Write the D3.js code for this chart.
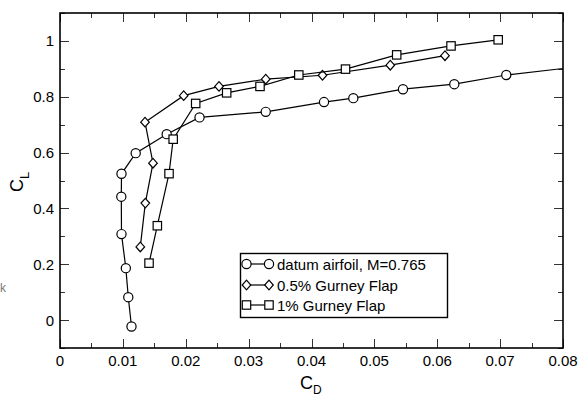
<!DOCTYPE html>
<html><head><meta charset="utf-8">
<script src="https://cdn.jsdelivr.net/npm/d3@7"></script>
<style>body{margin:0;background:#fff}svg{display:block}text{font-family:"Liberation Sans",Arial,sans-serif}</style>
</head><body><svg id="c" width="581" height="396"></svg>
<script>
// Datum airfoil, M=0.765 (CD, CL)
const datumCD = [0.01137,0.01086,0.01047,0.00978,0.00975,0.00978,0.01204,0.01697,0.02219,0.03272,0.04199,0.04665,0.05455,0.06271,0.07098,0.0900];
const datumCL = [-0.023,0.082,0.186,0.308,0.442,0.524,0.598,0.666,0.726,0.746,0.781,0.795,0.827,0.845,0.878,0.927];
// 0.5% Gurney flap
const g05CD = [0.01277,0.01357,0.01479,0.01352,0.01967,0.02529,0.03272,0.04175,0.05253,0.06123];
const g05CL = [0.262,0.419,0.562,0.709,0.804,0.837,0.863,0.877,0.913,0.947];
// 1% Gurney flap
const g1CD = [0.01416,0.01548,0.01734,0.01800,0.02158,0.02651,0.03181,0.03798,0.04541,0.05355,0.06219,0.06969];
const g1CL = [0.204,0.338,0.5245,0.648,0.776,0.814,0.837,0.878,0.899,0.950,0.982,1.004];
const xTicks = [0,0.01,0.02,0.03,0.04,0.05,0.06,0.07,0.08];
const yTicks = [0,0.2,0.4,0.6,0.8,1];
const seriesNames = ["datum airfoil, M=0.765","0.5% Gurney Flap","1% Gurney Flap"];

const svg = d3.select("#c");
const L=60,R=563,T=13,B=348;
const x = d3.scaleLinear().domain([0,0.08]).range([L,R]);
const y = d3.scaleLinear().domain([-0.1,1.1]).range([B,T]);

svg.append("defs").append("clipPath").attr("id","clip")
  .append("rect").attr("x",L).attr("y",T).attr("width",R-L).attr("height",B-T);

// ticks
const xMinor = d3.range(0,0.0801,0.005);
const yMinor = d3.range(-0.1,1.101,0.1);
const tk = svg.append("g").attr("stroke","#333").attr("stroke-width",1);
xMinor.forEach(v=>{
  const major = Math.abs(Math.round(v*100)-v*100)<1e-6;
  const len = major?9:5;
  const px = Math.round(x(v))+0.5;
  tk.append("line").attr("x1",px).attr("x2",px).attr("y1",B).attr("y2",B-len);
  tk.append("line").attr("x1",px).attr("x2",px).attr("y1",T).attr("y2",T+len);
});
yMinor.forEach(v=>{
  const r = Math.round(v*10);
  const major = r>=0 && r%2===0 && r<=10;
  const len = major?9:5;
  const py = Math.round(y(v))+0.5;
  tk.append("line").attr("x1",L).attr("x2",L+len).attr("y1",py).attr("y2",py);
  tk.append("line").attr("x1",R).attr("x2",R-len).attr("y1",py).attr("y2",py);
});

// tick labels
const fmt = v => v===0?"0":(v===1?"1":String(+v.toFixed(2)));
svg.append("g").selectAll("text").data(xTicks).join("text")
  .attr("x",d=>x(d)).attr("y",366).attr("text-anchor","middle")
  .attr("font-size",15).attr("fill","#000").text(fmt);
svg.append("g").selectAll("text").data(yTicks).join("text")
  .attr("x",54).attr("y",d=>y(d)+5.5).attr("text-anchor","end")
  .attr("font-size",15).attr("fill","#000").text(fmt);

// axis titles
const xt = svg.append("text").attr("x",300).attr("y",389).attr("font-size",18);
xt.append("tspan").text("C");
xt.append("tspan").attr("font-size",12).attr("dy",5).text("D");
const yt = svg.append("text").attr("transform","translate(23,192) rotate(-90)").attr("font-size",18);
yt.append("tspan").text("C");
yt.append("tspan").attr("font-size",13).attr("dy",6).text("L");

svg.append("text").attr("x",0).attr("y",292).attr("font-size",12).attr("fill","#777").text("k");

// series
const line = d3.line().x(d=>x(d[0])).y(d=>y(d[1]));
const plot = svg.append("g").attr("clip-path","url(#clip)");
const series = [
  {cd:datumCD, cl:datumCL, sym:"circle"},
  {cd:g05CD, cl:g05CL, sym:"diamond"},
  {cd:g1CD, cl:g1CL, sym:"square"}
];
function marker(g, sym, cx, cy){
  if(sym==="circle") g.append("circle").attr("cx",cx).attr("cy",cy).attr("r",4.6);
  else if(sym==="square") g.append("rect").attr("x",cx-4.2).attr("y",cy-4.2).attr("width",8.4).attr("height",8.4);
  else g.append("path").attr("d",`M${cx},${cy-4.8}L${cx+4.3},${cy}L${cx},${cy+4.8}L${cx-4.3},${cy}Z`);
}
series.forEach(s=>{
  const pts = s.cd.map((v,i)=>[v,s.cl[i]]);
  plot.append("path").datum(pts).attr("d",line).attr("fill","none").attr("stroke","#000").attr("stroke-width",1.2);
  const mg = plot.append("g").attr("fill","#fff").attr("stroke","#000").attr("stroke-width",1.2);
  pts.forEach(p=>marker(mg,s.sym,x(p[0]),y(p[1])));
});

// frame
svg.append("rect").attr("x",L).attr("y",T).attr("width",R-L).attr("height",B-T)
  .attr("fill","none").attr("stroke","#000").attr("stroke-width",1.6);

// legend
const lg = svg.append("g");
lg.append("rect").attr("x",240.5).attr("y",253.5).attr("width",207).attr("height",64)
  .attr("fill","#fff").attr("stroke","#000").attr("stroke-width",1.4);
const rowY=[264,285,305];
series.forEach((s,i)=>{
  const yy=rowY[i];
  lg.append("line").attr("x1",246).attr("x2",269).attr("y1",yy).attr("y2",yy).attr("stroke","#000").attr("stroke-width",1.2);
  const mg = lg.append("g").attr("fill","#fff").attr("stroke","#000").attr("stroke-width",1.2);
  marker(mg,s.sym,246.5,yy); marker(mg,s.sym,269,yy);
  lg.append("text").attr("x",277).attr("y",yy+5.5).attr("font-size",15).text(seriesNames[i]);
});
</script></body></html>
